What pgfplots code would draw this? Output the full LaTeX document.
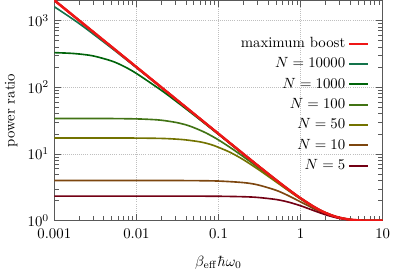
\documentclass[border=0pt]{standalone}
\usepackage{pgfplots}
\pgfplotsset{compat=1.18}
\definecolor{cmax}{RGB}{238,22,22}
\definecolor{cA}{RGB}{20,115,75}
\definecolor{cB}{RGB}{0,100,10}
\definecolor{cC}{RGB}{65,115,20}
\definecolor{cD}{RGB}{115,115,0}
\definecolor{cE}{RGB}{125,70,15}
\definecolor{cF}{RGB}{115,0,20}
\begin{document}
\begin{tikzpicture}
\begin{axis}[
  scale only axis, width=222pt, height=149pt,
  xmode=log, ymode=log,
  xmin=0.001, xmax=10, ymin=1, ymax=2000,
  xtick={0.001,0.01,0.1,1,10},
  xticklabels={0.001,0.01,0.1,1,10},
  ytick={1,10,100,1000},
  xticklabel style={yshift=-2pt},
  grid=major,
  major grid style={densely dotted, gray!50},
  axis line style={black!65},
  every tick/.style={black!65},
  xlabel={$\beta_{\mathrm{eff}}\hbar\omega_0$},
  xlabel style={yshift=-4.5pt},
  ylabel={power ratio},
  legend style={draw=none, fill=none, at={(0.972,0.86)}, anchor=north east, row sep=1.4pt},
  legend cell align=right,
  legend plot pos=right,
  legend image code/.code={\draw[#1, line width=1.35pt] plot coordinates {(0cm,0cm) (0.22cm,0cm) (0.44cm,0cm)};},
]
\addplot[cmax, line width=1.6pt, smooth] table {
x y
0.001 2000.0
0.002 1000.0
0.005 400.0
0.01 200.0
0.02 100.0
0.03 66.67
0.05 40.01
0.07 28.58
0.1 20.02
0.15 13.36
0.2 10.03
0.3 6.717
0.5 4.083
0.7 2.973
1 2.164
1.5 1.574
2 1.313
2.5 1.179
3 1.105
4 1.037
5 1.0135
6 1.005
7 1.0018
10 1.0001
};
\addlegendentry{maximum boost}
\addplot[cA, line width=1.1pt, smooth] table {
x y
0.001 1600.2
0.002 900.1
0.005 384.0
0.01 196.0
0.02 99.0
0.03 66.23
0.05 39.85
0.07 28.50
0.1 19.98
0.15 13.34
0.2 10.02
0.3 6.713
0.5 4.082
0.7 2.972
1 2.164
1.5 1.574
2 1.313
2.5 1.179
3 1.105
4 1.037
5 1.0135
6 1.005
7 1.0018
10 1.0001
};
\addlegendentry{$N=10000$}
\addplot[cB, line width=1.1pt, smooth] table {
x y
0.001 328.9
0.0015 322.5
0.002 314.0
0.003 293.1
0.005 246.4
0.007 205.6
0.01 160.5
0.02 90.1
0.03 62.29
0.05 38.45
0.07 27.79
0.1 19.64
0.15 13.19
0.2 9.942
0.3 6.678
0.5 4.070
0.7 2.967
1 2.159
1.5 1.5735
2 1.3126
2.5 1.1787
3 1.1047
4 1.037
5 1.0135
6 1.005
7 1.0018
10 1.0001
};
\addlegendentry{$N=1000$}
\addplot[cC, line width=1.1pt, smooth] table {
x y
0.001 34.0
0.002 33.98
0.005 33.87
0.01 33.47
0.015 32.82
0.02 32.0
0.03 29.7
0.04 27.29
0.05 24.8
0.07 20.7
0.1 16.21
0.15 11.71
0.2 9.127
0.3 6.333
0.5 3.957
0.7 2.914
1 2.139
1.5 1.565
2 1.309
2.5 1.1768
3 1.104
4 1.037
5 1.013
6 1.0049
7 1.0018
10 1.0001
};
\addlegendentry{$N=100$}
\addplot[cD, line width=1.1pt, smooth] table {
x y
0.001 17.33
0.002 17.33
0.005 17.32
0.01 17.27
0.02 17.07
0.03 16.69
0.04 16.22
0.06 15.13
0.08 13.87
0.1 12.55
0.14 10.50
0.2 8.221
0.3 5.949
0.5 3.831
0.7 2.856
1 2.114
1.5 1.556
2 1.305
2.5 1.1747
3 1.1025
4 1.0365
5 1.0134
6 1.0049
7 1.0018
10 1.0001
};
\addlegendentry{$N=50$}
\addplot[cE, line width=1.1pt, smooth] table {
x y
0.001 4.000
0.01 3.999
0.02 3.997
0.03 3.993
0.05 3.981
0.1 3.924
0.2 3.720
0.3 3.443
0.5 2.861
0.7 2.389
1 1.912
1.5 1.484
2 1.272
2.5 1.1578
3 1.0932
4 1.0334
5 1.0121
6 1.0045
7 1.00165
10 1.0001
};
\addlegendentry{$N=10$}
\addplot[cF, line width=1.1pt, smooth] table {
x y
0.001 2.3333
0.01 2.3332
0.02 2.3328
0.05 2.3302
0.1 2.3210
0.2 2.2853
0.3 2.2297
0.5 2.0789
0.7 1.9085
1 1.6731
1.5 1.3940
2 1.2309
2.5 1.1367
3 1.0816
4 1.0296
5 1.0108
6 1.0040
7 1.0015
10 1.0001
};
\addlegendentry{$N=5$}
\addplot[cmax, line width=1.6pt, smooth, forget plot] table {
x y
0.001 2000.0
0.002 1000.0
0.005 400.0
0.01 200.0
0.02 100.0
0.03 66.67
0.05 40.01
0.07 28.58
0.1 20.02
0.15 13.36
0.2 10.03
0.3 6.717
0.5 4.083
0.7 2.973
1 2.164
1.5 1.574
2 1.313
2.5 1.179
3 1.105
4 1.037
5 1.0135
6 1.005
7 1.0018
10 1.0001
};
\end{axis}
\end{tikzpicture}
\end{document}
